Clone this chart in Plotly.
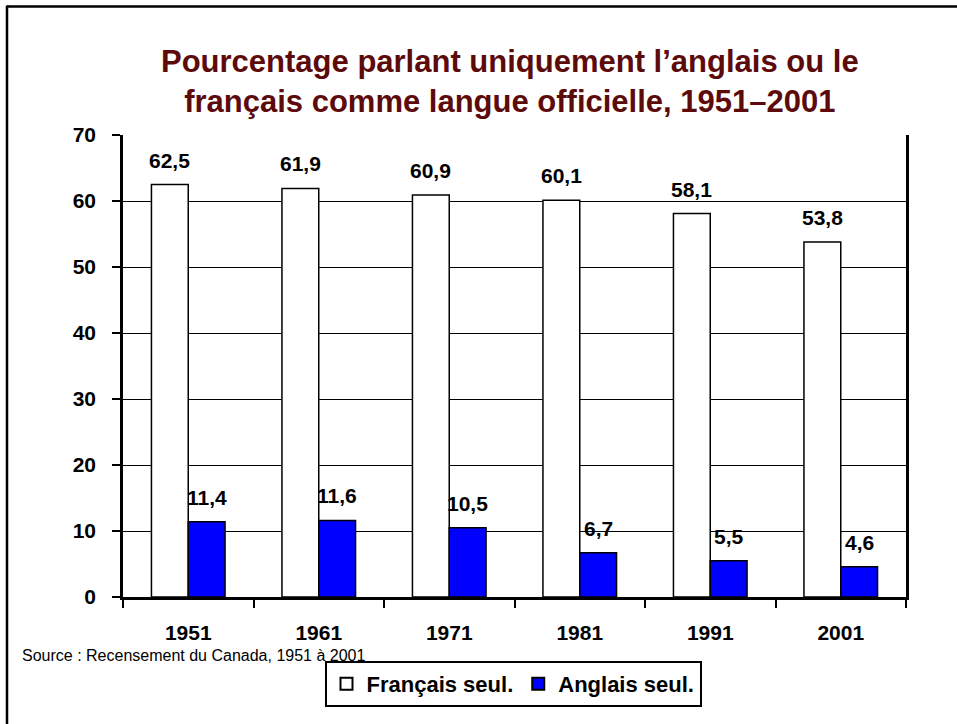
import plotly.graph_objects as go

years = ["1951", "1961", "1971", "1981", "1991", "2001"]
francais_seul = [62.5, 61.9, 60.9, 60.1, 58.1, 53.8]
anglais_seul = [11.4, 11.6, 10.5, 6.7, 5.5, 4.6]
series_names = ["Français seul.", "Anglais seul."]
title_text = "Pourcentage parlant uniquement l’anglais ou le<br>français comme langue officielle, 1951–2001"
source_text = "Source : Recensement du Canada, 1951 à 2001"

FONT = "Liberation Sans, Arial, sans-serif"
W, H = 957, 724
L, R, T, B = 123, 51, 135, 127
pw, ph = W - L - R, H - T - B
BARGAP = 0.436

def px_x(px):
    return (px - L) / pw

def px_y(py):
    return (H - B - py) / ph

def fmt(v):
    return f"{v:.1f}".replace(".", ",")

fig = go.Figure()
fig.add_trace(go.Bar(
    x=years, y=francais_seul, name=series_names[0],
    marker=dict(color="white", line=dict(color="black", width=1.5)),
))
fig.add_trace(go.Bar(
    x=years, y=anglais_seul, name=series_names[1],
    marker=dict(color="#0000FF", line=dict(color="black", width=1.5)),
))

annotations = []
bar_w = (1 - BARGAP) / 2  # in category units
for vals, off in ((francais_seul, -bar_w / 2), (anglais_seul, bar_w / 2)):
    for i, v in enumerate(vals):
        annotations.append(dict(
            x=i + off, y=v, xref="x", yref="y", text=fmt(v), showarrow=False,
            xanchor="center", yanchor="bottom", yshift=11,
            font=dict(family=FONT, size=21, color="black", weight="bold"),
        ))

annotations.append(dict(
    x=px_x(509.5), xref="paper", y=px_y(81), yref="paper", text=title_text,
    showarrow=False, xanchor="center", yanchor="middle",
    font=dict(family=FONT, size=31, color="#5C0A0A", weight="bold"),
))
annotations.append(dict(
    x=px_x(20), xref="paper", y=px_y(655), yref="paper", text=source_text,
    showarrow=False, xanchor="left", yanchor="middle",
    font=dict(family=FONT, size=16, color="black"),
))

shapes = [
    dict(type="line", xref="paper", yref="paper", x0=px_x(7), x1=px_x(960),
         y0=px_y(6.5), y1=px_y(6.5), line=dict(color="black", width=2.5)),
    dict(type="line", xref="paper", yref="paper", x0=px_x(7), x1=px_x(7),
         y0=px_y(5.5), y1=px_y(730), line=dict(color="black", width=2.5)),
]

fig.update_layout(
    width=W, height=H,
    margin=dict(l=L, r=R, t=T, b=B, pad=0, autoexpand=False),
    paper_bgcolor="white", plot_bgcolor="white",
    barmode="group", bargap=BARGAP, bargroupgap=0,
    font=dict(family=FONT, color="black"),
    showlegend=True,
    legend=dict(
        orientation="h", x=px_x(513), xanchor="center", y=px_y(684), yanchor="middle",
        bordercolor="black", borderwidth=2, bgcolor="white",
        font=dict(family=FONT, size=22, color="black", weight="bold"),
        itemsizing="constant", tracegroupgap=0, itemwidth=30,
    ),
    annotations=annotations,
    shapes=shapes,
    xaxis=dict(
        type="category", range=[-0.5, len(years) - 0.5], automargin=False,
        showline=True, linecolor="black", linewidth=2.5,
        ticks="outside", tickson="boundaries", ticklen=8, tickwidth=2, tickcolor="black",
        showgrid=False, tickangle=0,
        tickfont=dict(family=FONT, size=21, color="black", weight="bold"),
        ticklabelstandoff=15,
    ),
    yaxis=dict(
        range=[0, 70], dtick=10, automargin=False,
        showline=True, linecolor="black", linewidth=2.5,
        mirror=True, ticks="outside", ticklen=8, tickwidth=2, tickcolor="black",
        showgrid=True, gridcolor="black", gridwidth=1, zeroline=False,
        tickfont=dict(family=FONT, size=21, color="black", weight="bold"),
        ticklabelstandoff=12,
    ),
)

fig.write_html(
    "out.html",
    config={"displayModeBar": False},
    post_script="document.body.style.margin='0';",
)
